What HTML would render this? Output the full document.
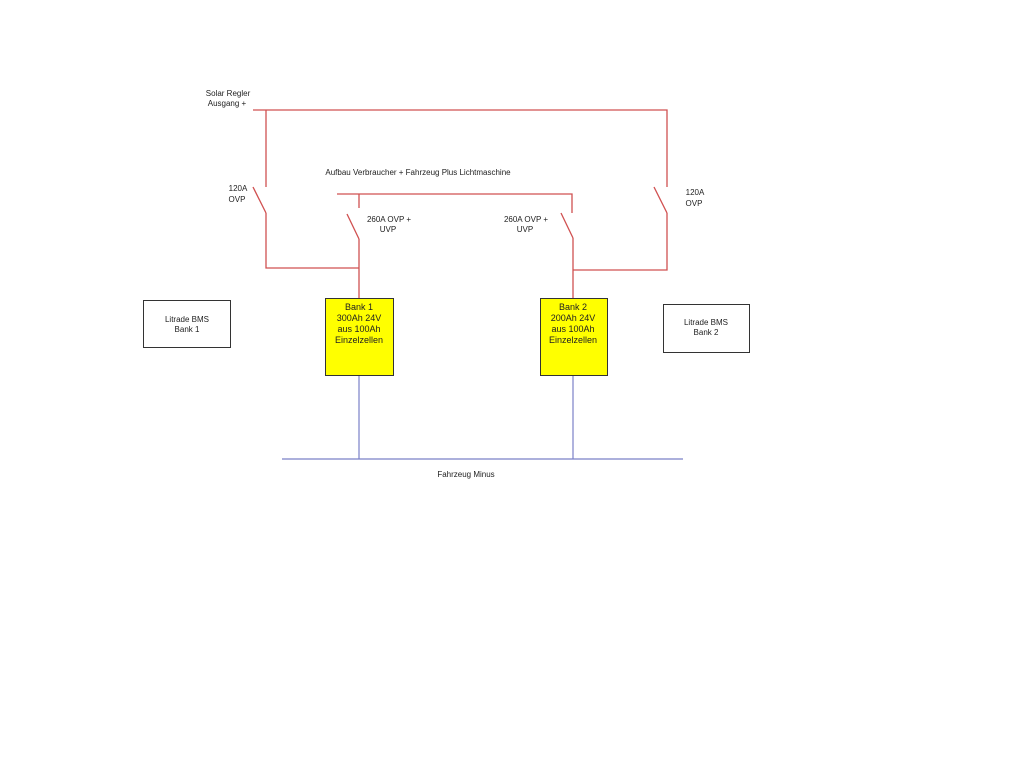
<!DOCTYPE html>
<html><head><style>
body{margin:0;background:#fff;width:1024px;height:768px;overflow:hidden}
svg text{font-family:"Liberation Sans",sans-serif;font-size:8px;fill:#222}
</style></head><body>
<svg width="1024" height="768" viewBox="0 0 1024 768">
<g stroke="#d05050" stroke-width="1.3" fill="none">
<polyline points="253,110 667,110 667,187"/>
<line x1="654" y1="187" x2="667" y2="213"/>
<polyline points="667,213 667,270 573,270"/>
<polyline points="266,110 266,187"/>
<line x1="253" y1="187" x2="266" y2="213"/>
<polyline points="266,213 266,268 359,268"/>
<polyline points="337,194 572,194 572,213"/>
<line x1="359" y1="194" x2="359" y2="208"/>
<line x1="347" y1="214" x2="359" y2="239"/>
<line x1="359" y1="239" x2="359" y2="298"/>
<line x1="561" y1="213" x2="573" y2="238"/>
<line x1="573" y1="238" x2="573" y2="298"/>
</g>
<g stroke="#7a80c8" stroke-width="1.2">
<line x1="359" y1="375" x2="359" y2="459"/>
<line x1="573" y1="375" x2="573" y2="459"/>
<line x1="282" y1="459" x2="683" y2="459"/>
</g>
<rect x="325.5" y="298.5" width="68" height="77" fill="#ffff00" stroke="#333"/>
<rect x="540.5" y="298.5" width="67" height="77" fill="#ffff00" stroke="#333"/>
<rect x="143.5" y="300.5" width="87" height="47" fill="#fff" stroke="#333"/>
<rect x="663.5" y="304.5" width="86" height="48" fill="#fff" stroke="#333"/>
<g text-anchor="middle">
<text x="228" y="96">Solar Regler</text><text x="227" y="106">Ausgang +</text>
<text x="418" y="175">Aufbau Verbraucher + Fahrzeug Plus Lichtmaschine</text>
<text x="238" y="191">120A</text><text x="237" y="202">OVP</text>
<text x="695" y="195">120A</text><text x="694" y="206">OVP</text>
<text x="389" y="222">260A OVP +</text><text x="388" y="232">UVP</text>
<text x="526" y="222">260A OVP +</text><text x="525" y="232">UVP</text>
<text x="359" y="310" style="font-size:9px">Bank 1</text><text x="359" y="321" style="font-size:9px">300Ah 24V</text><text x="359" y="332" style="font-size:9px">aus 100Ah</text><text x="359" y="343" style="font-size:9px">Einzelzellen</text>
<text x="573" y="310" style="font-size:9px">Bank 2</text><text x="573" y="321" style="font-size:9px">200Ah 24V</text><text x="573" y="332" style="font-size:9px">aus 100Ah</text><text x="573" y="343" style="font-size:9px">Einzelzellen</text>
<text x="187" y="322">Litrade BMS</text><text x="187" y="332">Bank 1</text>
<text x="706" y="325">Litrade BMS</text><text x="706" y="335">Bank 2</text>
<text x="466" y="477">Fahrzeug Minus</text>
</g>
</svg>
</body></html>
